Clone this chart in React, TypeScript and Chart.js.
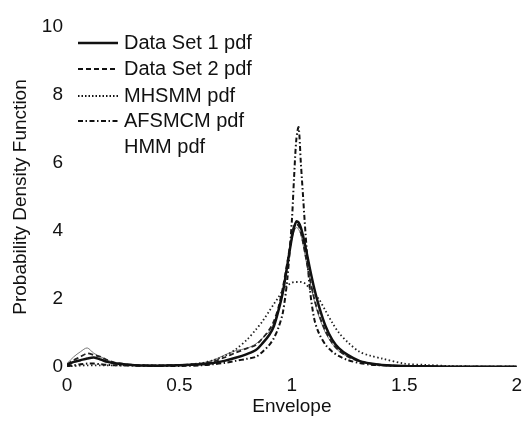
import React, { useEffect, useRef } from "react";
import { Chart, registerables } from "chart.js";

Chart.register(...registerables);

const envelope = [
  0, 0.03, 0.06, 0.09, 0.12, 0.15, 0.18, 0.22, 0.3, 0.4, 0.5, 0.6, 0.65, 0.7, 0.75, 0.8,
  0.84, 0.87, 0.9, 0.92, 0.94, 0.96, 0.98, 1.0, 1.01, 1.02, 1.03, 1.04, 1.05, 1.06, 1.08,
  1.1, 1.12, 1.15, 1.18, 1.21, 1.25, 1.3, 1.35, 1.4, 1.5, 1.6, 1.7, 1.8, 1.9, 2.0,
];

const dataSet1 = [
  0.05, 0.15, 0.2, 0.25, 0.28, 0.22, 0.15, 0.1, 0.05, 0.04, 0.05, 0.08, 0.12, 0.18, 0.27, 0.38,
  0.5, 0.7, 0.95, 1.2, 1.65, 2.2, 3.0, 3.8, 4.1, 4.28, 4.25, 4.1, 3.85, 3.55, 2.9,
  2.3, 1.8, 1.2, 0.8, 0.55, 0.35, 0.18, 0.1, 0.06, 0.03, 0.02, 0.01, 0.01, 0.01, 0.01,
];

const dataSet2 = [
  0.08, 0.2, 0.3, 0.4, 0.35, 0.3, 0.2, 0.12, 0.06, 0.05, 0.06, 0.1, 0.16, 0.28, 0.42, 0.55,
  0.65, 0.85, 1.1, 1.35, 1.75, 2.35, 3.1, 3.9, 4.15, 4.2, 4.15, 3.95, 3.65, 3.3, 2.6,
  2.0, 1.55, 1.05, 0.7, 0.48, 0.3, 0.17, 0.1, 0.06, 0.03, 0.02, 0.01, 0.01, 0.01, 0.01,
];

const mhsmm = [
  0.02, 0.03, 0.04, 0.05, 0.05, 0.05, 0.05, 0.05, 0.05, 0.05, 0.05, 0.12, 0.2, 0.32, 0.52, 0.8,
  1.1, 1.35, 1.65, 1.85, 2.05, 2.25, 2.4, 2.48, 2.5, 2.5, 2.5, 2.5, 2.48, 2.45, 2.3,
  2.15, 2.0, 1.65, 1.3, 1.0, 0.72, 0.45, 0.33, 0.25, 0.1, 0.06, 0.03, 0.02, 0.01, 0.01,
];

const afsmcm = [
  0.02, 0.05, 0.08, 0.1, 0.1, 0.08, 0.06, 0.05, 0.04, 0.03, 0.03, 0.05, 0.08, 0.12, 0.18, 0.24,
  0.3, 0.45, 0.65, 0.85, 1.15, 1.6, 2.6, 4.3, 5.6, 6.7, 7.05, 6.0, 5.0, 4.0, 2.3,
  1.4, 1.0, 0.65, 0.45, 0.32, 0.2, 0.12, 0.07, 0.05, 0.02, 0.01, 0.01, 0.01, 0.01, 0.01,
];

const hmm = [
  0.1, 0.3, 0.45, 0.56, 0.4, 0.3, 0.2, 0.12, 0.06, 0.05, 0.06, 0.12, 0.2, 0.35, 0.48, 0.55,
  0.68, 0.85, 1.05, 1.3, 1.7, 2.25, 3.0, 3.75, 4.0, 4.1, 4.05, 3.9, 3.6, 3.25, 2.55,
  1.95, 1.5, 1.0, 0.68, 0.46, 0.3, 0.17, 0.1, 0.06, 0.03, 0.02, 0.01, 0.01, 0.01, 0.01,
];

const seriesLabels = ["Data Set 1 pdf", "Data Set 2 pdf", "MHSMM pdf", "AFSMCM pdf", "HMM pdf"];
const xTicks = [0, 0.5, 1, 1.5, 2];
const yTicks = [0, 2, 4, 6, 8, 10];

const FONT = "'Liberation Sans', Arial, sans-serif";

const toPoints = (ys: number[]) => envelope.map((x, i) => ({ x, y: ys[i] }));

const legendPlugin = {
  id: "insideLegend",
  afterDraw(chart: any) {
    const ctx = chart.ctx;
    const rows = chart.data.datasets;
    const order = [0, 1, 2, 3, 4];
    const rowY = [43, 69, 96, 121, 147];
    ctx.save();
    order.forEach((di, r) => {
      const ds = rows[di];
      const y = rowY[r];
      if (ds.legendSample !== false) {
        ctx.beginPath();
        ctx.setLineDash(ds.legendDash || []);
        ctx.lineWidth = ds.borderWidth;
        ctx.strokeStyle = "#111";
        ctx.moveTo(78, y);
        ctx.lineTo(118, y);
        ctx.stroke();
      }
      ctx.setLineDash([]);
      ctx.fillStyle = "#111";
      ctx.font = `20px ${FONT}`;
      ctx.textBaseline = "middle";
      ctx.textAlign = "left";
      ctx.fillText(ds.label, 124, y);
    });
    ctx.restore();
  },
};

export default function App() {
  const ref = useRef<HTMLCanvasElement | null>(null);
  useEffect(() => {
    if (!ref.current) return;
    const chart = new Chart(ref.current, {
      type: "line",
      data: {
        datasets: [
          {
            label: seriesLabels[0],
            data: toPoints(dataSet1),
            borderColor: "#111",
            borderWidth: 2.5,
            borderDash: [],
            legendDash: [],
          },
          {
            label: seriesLabels[1],
            data: toPoints(dataSet2),
            borderColor: "#222",
            borderWidth: 1.8,
            borderDash: [5, 3],
            legendDash: [5, 3],
          },
          {
            label: seriesLabels[2],
            data: toPoints(mhsmm),
            borderColor: "#222",
            borderWidth: 1.8,
            borderDash: [1.5, 2.5],
            legendDash: [1.5, 2],
          },
          {
            label: seriesLabels[3],
            data: toPoints(afsmcm),
            borderColor: "#111",
            borderWidth: 2,
            borderDash: [5, 2.5, 1.5, 2.5],
            legendDash: [5, 2.5, 1.5, 2.5],
          },
          {
            label: seriesLabels[4],
            data: toPoints(hmm),
            borderColor: "#777",
            borderWidth: 1,
            borderDash: [],
            legendSample: false,
          },
        ] as any,
      },
      options: {
        animation: false,
        responsive: false,
        maintainAspectRatio: false,
        layout: { padding: { top: 27, right: 12, left: 0, bottom: 0 } },
        elements: { point: { radius: 0 }, line: { tension: 0.3 } },
        plugins: { legend: { display: false }, tooltip: { enabled: false } },
        scales: {
          x: {
            type: "linear",
            min: 0,
            max: 2,
            afterFit: (s: any) => {
              s.height = 54;
            },
            afterBuildTicks: (s: any) => {
              s.ticks = xTicks.map((v) => ({ value: v }));
            },
            grid: { display: false, drawTicks: false },
            border: { display: false },
            ticks: {
              color: "#111",
              font: { family: FONT, size: 19 },
              padding: 7,
              maxRotation: 0,
              callback: (v: any) => String(v),
            },
            title: {
              display: true,
              text: "Envelope",
              color: "#111",
              font: { family: FONT, size: 19 },
              padding: { top: 0, bottom: 3 },
            },
          },
          y: {
            type: "linear",
            min: 0,
            max: 10,
            afterFit: (s: any) => {
              s.width = 67;
            },
            afterBuildTicks: (s: any) => {
              s.ticks = yTicks.map((v) => ({ value: v }));
            },
            grid: { display: false, drawTicks: false },
            border: { display: false },
            ticks: {
              color: "#111",
              font: { family: FONT, size: 19 },
              padding: 4,
              callback: (v: any) => String(v),
            },
            title: {
              display: true,
              text: "Probability Density Function",
              color: "#111",
              font: { family: FONT, size: 19 },
              padding: { top: 9, bottom: 0 },
            },
          },
        },
      },
      plugins: [legendPlugin],
    });
    return () => chart.destroy();
  }, []);
  return (
    <div style={{ position: "absolute", left: 0, top: 0, width: 529, height: 421, background: "#fff" }}>
      <canvas ref={ref} width={529} height={421} style={{ width: 529, height: 421, display: "block" }} />
    </div>
  );
}
